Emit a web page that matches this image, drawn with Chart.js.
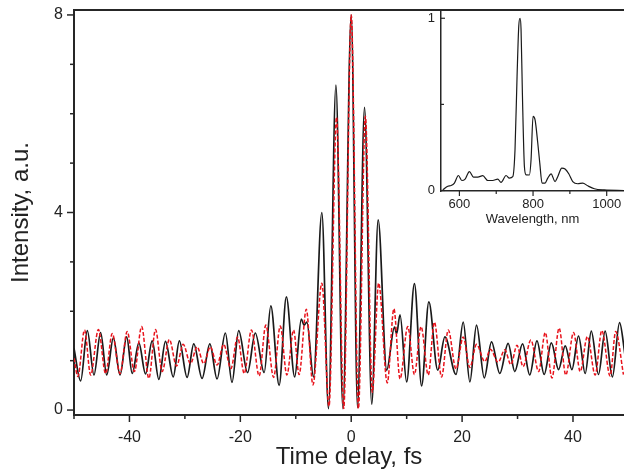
<!DOCTYPE html>
<html><head><meta charset="utf-8">
<script src="https://cdn.jsdelivr.net/npm/chart.js@4"></script>
<style>
html,body{margin:0;padding:0;background:#fff;}
#wrap{position:relative;width:624px;height:472px;overflow:hidden;background:#fff;}
#main{position:absolute;left:0;top:0;}
#inset{position:absolute;left:380px;top:0;}
</style></head><body>
<div id="wrap"><canvas id="main" width="624" height="472"></canvas><canvas id="inset" width="244" height="232"></canvas></div>
<script>
// ---- Main autocorrelation traces (time delay in fs, intensity in a.u.) ----
const blackDelay = [-50.0,-48.8,-47.6,-46.4,-45.2,-44.1,-42.9,-41.7,-40.5,-39.5,-38.3,-37.1,-35.9,-34.7,-33.5,-32.1,-31.0,-29.6,-28.4,-26.9,-25.5,-24.2,-22.7,-21.5,-20.3,-18.7,-17.3,-15.7,-14.5,-13.0,-11.7,-10.2,-9.0,-8.5,-8.0,-6.8,-5.3,-4.1,-2.76,-1.5,0.0,1.14,2.4,3.7,4.86,6.4,7.8,8.2,8.8,10.0,11.4,12.7,14.0,15.6,16.9,18.9,20.2,21.4,22.6,24.0,25.3,26.8,28.3,29.5,30.9,32.2,33.5,34.8,36.1,37.4,38.6,39.8,41.0,42.2,43.3,44.6,45.8,47.1,48.4,49.4];
const blackIntensity = [1.25,0.59,1.61,0.71,1.57,0.71,1.46,0.71,1.48,0.74,1.36,0.73,1.40,0.62,1.39,0.67,1.40,0.66,1.34,0.64,1.34,0.63,1.56,0.56,1.61,0.76,1.56,0.76,2.11,0.50,2.29,0.67,1.84,1.72,1.78,0.67,4.0,0.03,6.58,0.03,8.0,0.05,6.13,0.12,3.85,0.81,1.68,1.55,1.93,0.57,2.56,0.49,2.19,0.81,1.48,0.72,1.78,0.57,1.72,0.65,1.38,0.74,1.35,0.78,1.34,0.71,1.40,0.72,1.36,0.82,1.30,0.82,1.50,0.74,1.60,0.72,1.60,0.67,1.77,1.1];
const redDelay = [-50.0,-49.3,-48.1,-47.0,-45.6,-44.3,-43.1,-41.7,-40.4,-39.1,-37.8,-36.5,-35.3,-34.1,-32.8,-31.5,-30.3,-29.0,-27.8,-26.6,-25.4,-24.2,-23.0,-21.7,-20.5,-19.3,-18.0,-16.6,-15.4,-14.0,-12.8,-11.6,-10.4,-9.4,-8.1,-6.9,-5.3,-4.0,-2.65,-1.35,0.0,1.3,2.55,3.8,4.95,6.5,7.7,8.8,10.2,11.4,12.6,13.9,15.0,16.3,17.5,18.9,20.2,21.4,22.6,24.1,25.1,26.5,27.7,28.8,29.9,31.0,32.4,33.8,35.0,36.2,37.5,38.7,40.1,41.3,42.6,44.0,45.2,46.7,47.7,49.1];
const redIntensity = [1.05,0.68,1.62,0.71,1.63,0.74,1.55,0.74,1.59,0.78,1.69,0.64,1.63,0.78,1.43,0.89,1.33,0.94,1.28,0.94,1.28,0.91,1.33,0.84,1.48,0.74,1.62,0.69,1.72,0.66,1.70,0.71,1.62,0.72,2.04,0.51,2.57,0.08,5.93,0.03,8.0,0.03,5.95,0.36,2.57,0.55,2.05,0.63,1.69,0.72,1.69,0.71,1.78,0.67,1.62,0.83,1.48,0.86,1.33,0.98,1.23,0.97,1.22,0.92,1.31,0.88,1.42,0.78,1.57,0.65,1.66,0.71,1.57,0.78,1.49,0.71,1.61,0.69,1.59,0.72];
// ---- Inset spectrum ----
const wavelength = [555,568.5,577.5,586.4,597.3,606.5,615.5,627.1,638,650,663.5,677,690.6,704.2,713,726.7,735.7,744.9,751,756.6,761.2,764.7,767.4,771,776.5,781,790,794.6,800,805.5,812.8,818.2,824.5,832.6,840,848.9,859.7,867,878,887,897,907.8,921.3,935,948.5,966.5,993.5,1047];
const spectrum = [0.004,0.025,0.029,0.043,0.087,0.058,0.066,0.11,0.078,0.078,0.086,0.058,0.058,0.066,0.047,0.087,0.072,0.08,0.237,0.664,0.955,1.0,0.936,0.567,0.14,0.091,0.09,0.18,0.43,0.41,0.276,0.16,0.043,0.043,0.072,0.097,0.052,0.08,0.13,0.125,0.097,0.052,0.039,0.043,0.027,0.01,0.003,0.0];
// ---- Ticks ----
const mainXMajor = [-40,-20,0,20,40];
const mainXMinor = [-50,-30,-10,10,30];
const mainYMajor = [0,4,8];
const mainYMinor = [1,2,3,5,6,7];
const insetXMajor = [600,800,1000];
const insetXMinor = [700,900];
const insetYMajor = [0,1];
const insetYMinor = [0.5];

const FONT = "'Liberation Sans', Arial, Helvetica, sans-serif";
const AX = '#262626';

const toPts = (xs, ys) => xs.map((x, i) => ({x, y: ys[i]}));

const tickPlugin = {
  id: 'tickMarks',
  afterDraw(chart, args, opts) {
    const ctx = chart.ctx, ca = chart.chartArea;
    ctx.save();
    ctx.strokeStyle = opts.color; ctx.lineWidth = opts.width;
    (opts.marks || []).forEach(m => {
      const sc = chart.scales[m.axis];
      m.values.forEach(v => {
        const p = sc.getPixelForValue(v);
        ctx.beginPath();
        if (sc.isHorizontal()) { ctx.moveTo(p, ca.bottom); ctx.lineTo(p, ca.bottom + m.dir * m.len); }
        else { ctx.moveTo(ca.left, p); ctx.lineTo(ca.left + m.dir * m.len, p); }
        ctx.stroke();
      });
    });
    if (opts.top) {
      ctx.lineWidth = opts.topWidth;
      ctx.beginPath(); ctx.moveTo(ca.left - 1, ca.top); ctx.lineTo(chart.width, ca.top); ctx.stroke();
    }
    ctx.restore();
  }
};

const fixTicks = vals => scale => { scale.ticks = vals.map(v => ({value: v})); };
const plainLabel = v => String(v);

new Chart(document.getElementById('main'), {
  type: 'line',
  data: {
    datasets: [
      {data: toPts(redDelay, redIntensity), borderColor: '#e8121b', borderWidth: 1.5, borderDash: [4, 2],
       pointRadius: 0, cubicInterpolationMode: 'monotone', fill: false},
      {data: toPts(blackDelay, blackIntensity), borderColor: '#1a1a1a', borderWidth: 1.7,
       pointRadius: 0, cubicInterpolationMode: 'monotone', fill: false}
    ]
  },
  options: {
    responsive: false, animation: false, devicePixelRatio: 1,
    layout: {padding: {top: 10, right: 0, left: 0, bottom: 0}},
    plugins: {legend: {display: false}, tooltip: {enabled: false},
      tickMarks: {color: AX, width: 1.5, top: true, topWidth: 2, marks: [
        {axis: 'x', values: mainXMajor, len: 7, dir: 1},
        {axis: 'x', values: mainXMinor, len: 4, dir: 1},
        {axis: 'y', values: mainYMajor, len: 7, dir: -1},
        {axis: 'y', values: mainYMinor, len: 4, dir: -1}]}},
    scales: {
      x: {type: 'linear', min: -50, max: 49.2,
          afterBuildTicks: fixTicks(mainXMajor),
          afterFit: s => { s.height = 57; s.paddingLeft = 0; s.paddingRight = 0; },
          grid: {display: false, drawTicks: false},
          border: {display: true, color: AX, width: 2},
          ticks: {padding: 13, color: '#222', font: {family: FONT, size: 16}, maxRotation: 0, autoSkip: false, callback: plainLabel},
          title: {display: true, text: 'Time delay, fs', color: '#222', font: {family: FONT, size: 24}, padding: {top: 0, bottom: 0}}},
      y: {type: 'linear', min: -0.1, max: 8.1,
          afterBuildTicks: fixTicks(mainYMajor),
          afterFit: s => { s.width = 74; s.paddingTop = 0; s.paddingBottom = 0; },
          grid: {display: false, drawTicks: false},
          border: {display: true, color: AX, width: 2},
          ticks: {padding: 11, color: '#222', font: {family: FONT, size: 16}, callback: plainLabel},
          title: {display: true, text: 'Intensity, a.u.', color: '#222', font: {family: FONT, size: 24}, padding: {top: 7, bottom: 0}}}
    }
  },
  plugins: [tickPlugin]
});

new Chart(document.getElementById('inset'), {
  type: 'line',
  data: {
    datasets: [
      {data: toPts(wavelength, spectrum), borderColor: '#1a1a1a', borderWidth: 1.2,
       pointRadius: 0, cubicInterpolationMode: 'monotone', fill: false}
    ]
  },
  options: {
    responsive: false, animation: false, devicePixelRatio: 1,
    layout: {padding: {top: 10, right: 0, left: 0, bottom: 0}},
    plugins: {legend: {display: false}, tooltip: {enabled: false},
      tickMarks: {color: AX, width: 1.2, top: false, marks: [
        {axis: 'x', values: insetXMajor, len: 5, dir: 1},
        {axis: 'x', values: insetXMinor, len: 3, dir: 1},
        {axis: 'y', values: insetYMajor, len: 4, dir: 1},
        {axis: 'y', values: insetYMinor, len: 3, dir: 1}]}},
    scales: {
      x: {type: 'linear', min: 550, max: 1047,
          afterBuildTicks: fixTicks(insetXMajor),
          afterFit: s => { s.height = 41; s.paddingLeft = 0; s.paddingRight = 0; },
          grid: {display: false, drawTicks: false},
          border: {display: true, color: AX, width: 1.5},
          ticks: {padding: 6, color: '#222', font: {family: FONT, size: 13}, maxRotation: 0, autoSkip: false, callback: plainLabel},
          title: {display: true, text: 'Wavelength, nm', color: '#222', font: {family: FONT, size: 13}, padding: {top: 0, bottom: 5}}},
      y: {type: 'linear', min: -0.003, max: 1.048,
          afterBuildTicks: fixTicks(insetYMajor),
          afterFit: s => { s.width = 61; s.paddingTop = 0; s.paddingBottom = 0; },
          grid: {display: false, drawTicks: false},
          border: {display: true, color: AX, width: 1.5},
          ticks: {padding: 6, color: '#222', font: {family: FONT, size: 13}, callback: plainLabel}}
    }
  },
  plugins: [tickPlugin]
});
</script>
</body></html>
